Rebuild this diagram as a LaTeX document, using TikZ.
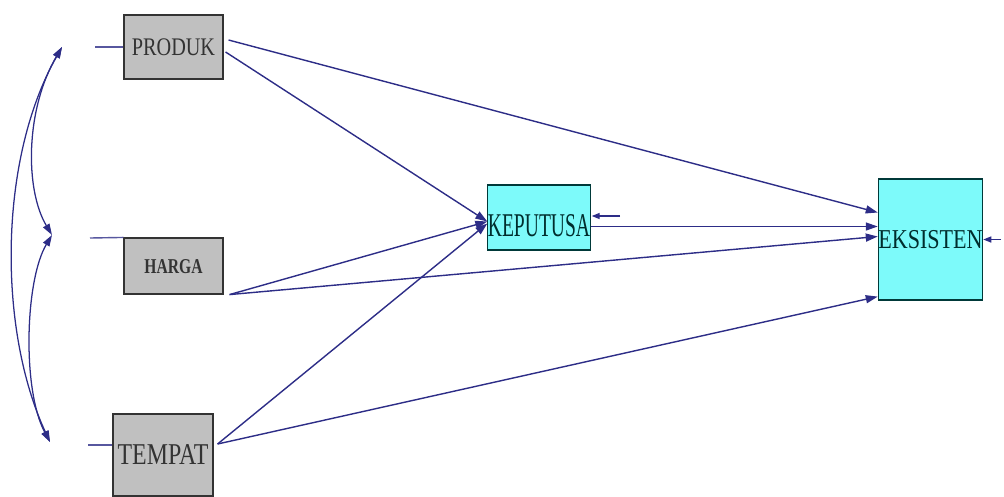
\documentclass[tikz,border=0pt]{standalone}
\usepackage{fontspec}
\setmainfont{Liberation Serif}
\usepackage{graphicx}
\usetikzlibrary{arrows.meta, positioning, calc}

\definecolor{pathblue}{RGB}{45,45,135}
\definecolor{boxgray}{RGB}{192,192,192}
\definecolor{boxcyan}{RGB}{125,250,250}

\newcommand{\squeeze}[2]{\scalebox{#1}[1]{#2}}

\begin{document}
\begin{tikzpicture}[
    x=0.025cm, y=-0.025cm,
    obs/.style={rectangle, draw=gray!40!black, line width=0.8pt, fill=boxgray, inner sep=0pt, text depth=0pt, text=black!80},
    endo/.style={obs, fill=boxcyan, draw=teal!45!black, text=teal!35!black},
    arrow/.style={-{Triangle[length=3mm, width=2mm]}, pathblue, line width=1pt},
    resid/.style={-{Triangle[length=2mm, width=1.5mm]}, pathblue, line width=1pt},
    corr/.style={{Triangle[length=2.8mm, width=1.8mm]}-{Triangle[length=2.8mm, width=1.8mm]}, pathblue, line width=0.9pt},
    stub/.style={pathblue!80, line width=1pt}
]
\useasboundingbox (0,0) rectangle (1004,496);

% Exogenous
\node[obs, minimum width=2.475cm, minimum height=1.6cm, font=\fontsize{18}{18}\selectfont, text height=12pt] (produk) at (173.5,47) {\squeeze{0.8}{PRODUK}};
\node[obs, minimum width=2.475cm, minimum height=1.4cm, font=\fontsize{15}{15}\selectfont\bfseries, text height=10pt] (harga) at (173.5,266) {\squeeze{0.74}{HARGA}};
\node[obs, minimum width=2.5cm, minimum height=2.05cm, font=\fontsize{21.5}{21.5}\selectfont, text height=14.2pt] (tempat) at (163,455) {\squeeze{0.79}{TEMPAT}};

% Endogenous
\node[endo, minimum width=2.55cm, minimum height=1.625cm, font=\fontsize{23.6}{23.6}\selectfont, text height=27pt] (keputusan) at (539,217.5) {\squeeze{0.59}{KEPUTUSA}};
\node[endo, minimum width=2.475cm, minimum height=3.025cm, font=\fontsize{19.4}{19.4}\selectfont, text height=12.8pt] (eksisten) at (930.5,239.5) {\squeeze{0.81}{EKSISTEN}};

% Stubs
\coordinate (sp) at (95,47);
\coordinate (sh) at (90,238);
\coordinate (st) at (88,445);
\draw[stub] (sp) -- (produk.west);
\draw[stub] (sh) -- (harga.north west);
\draw[stub] (st) -- ($(tempat.west)+(0,-10)$);

% Correlations
\coordinate (cp) at (62,47);
\coordinate (ch) at (52,235);
\coordinate (ct) at (50,442);
\draw[corr] (cp) .. controls (-2,160) and (-2,330) .. (ct);
\draw[corr] (cp) .. controls (25,110) and (25,190) .. (ch);
\draw[corr] (ch) .. controls (25,280) and (22,390) .. (ct);

% Paths to keputusan
\draw[arrow] ($(produk.east)+(2,5)$) -- ($(keputusan.west)+(0,4)$);
\draw[arrow] ($(harga.south east)+(6,0)$) -- ($(keputusan.west)+(0,4)$);
\draw[arrow] ($(tempat.east)+(4,-11)$) -- ($(keputusan.west)+(0,6)$);

% Paths to eksisten
\draw[arrow] ($(produk.east)+(5,-7)$) -- ($(eksisten.west)+(0,-27)$);
\draw[arrow] ($(keputusan.east)+(0,9)$) -- ($(eksisten.west)+(0,-13)$);
\draw[arrow] ($(harga.south east)+(6,0)$) -- ($(eksisten.west)+(0,-3)$);
\draw[arrow] ($(tempat.east)+(4,-11)$) -- ($(eksisten.south west)+(0,-4)$);

% Residuals
\coordinate (ek) at (620,216);
\coordinate (ee) at (1001,239.5);
\draw[resid] (ek) -- ($(keputusan.east)+(1,-1.5)$);
\draw[resid] (ee) -- (eksisten.east);

\end{tikzpicture}
\end{document}
